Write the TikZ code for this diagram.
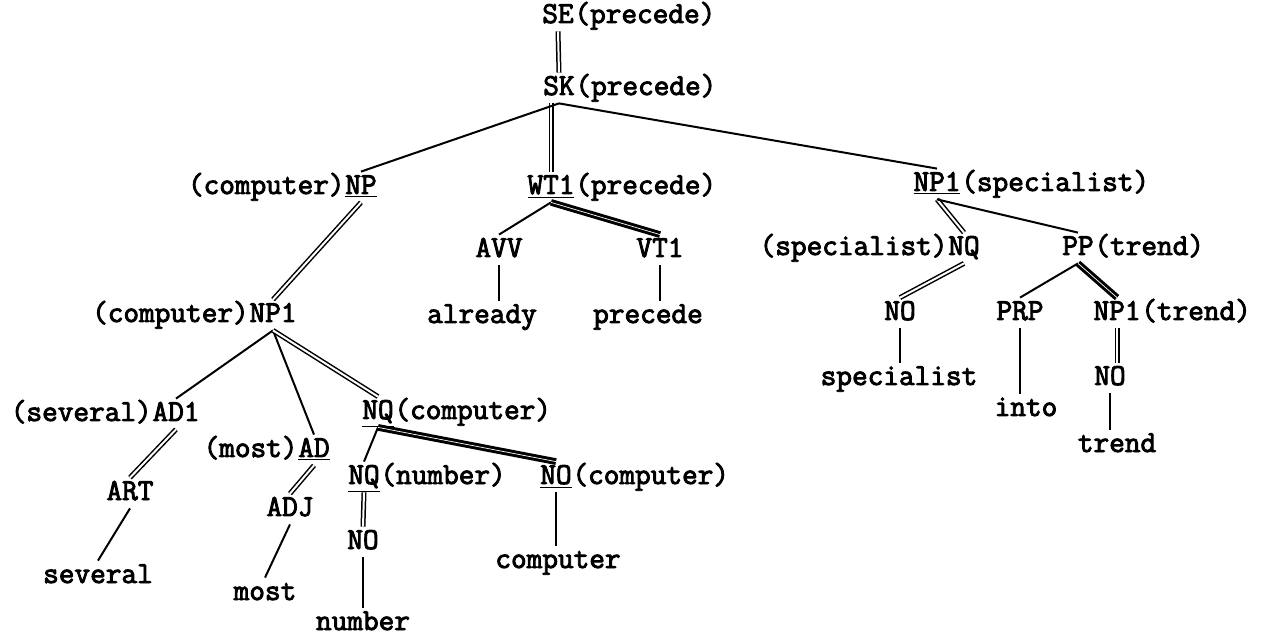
\documentclass[tikz,border=0pt]{standalone}
\usepackage{fontspec}
\usetikzlibrary{positioning}
\newfontfamily\typew{Latin Modern Mono}[FakeBold=3]

\begin{document}
\begin{tikzpicture}[x=0.5pt, y=-0.5pt,
		every node/.style={font=\fontsize{15.2}{18}\selectfont\typew, inner xsep=0pt, inner ysep=3.5pt, text height=7.5pt, text depth=0.5pt},
		br/.style={line width=1pt},
		dbl/.style={double, line width=0.75pt, double distance=1pt},
		hvy/.style={double, line width=1.5pt, double distance=0.35pt}]
			\useasboundingbox (0,0) rectangle (1262,640);

			% top
			\node (se) at (558,16) {SE};
			\node[right=0pt of se] (sew) {(precede)};
			\node (sk) at (559,88) {SK};
			\node[right=0pt of sk] (skw) {(precede)};

			\node (np) at (361,187) {\underline{NP}};
			\node[left=0pt of np] (npw) {(computer)};
			\node (wt) at (551,187) {\underline{WT1}};
			\node[right=0pt of wt] (wtw) {(precede)};
			\node (npa) at (937,184) {\underline{NP1}};
			\node[right=0pt of npa] (npaw) {(specialist)};

			% middle branch
			\node (avv) at (499,250) {AVV};
			\node (vt) at (660,250) {VT1};
			\node (alr) at (482,316) {already};
			\node (prc) at (648,316) {precede};

			% left branch
			\node (npc) at (273,315) {NP1};
			\node[left=0pt of npc] (npcw) {(computer)};
			\node (ad1) at (176,414) {AD1};
			\node[left=0pt of ad1] (ad1w) {(several)};
			\node (ad) at (314,450) {\underline{AD}};
			\node[left=0pt of ad] (adw) {(most)};
			\node (nqc) at (378,412) {\underline{NQ}};
			\node[right=0pt of nqc] (nqcw) {(computer)};
			\node (art) at (130,493) {ART};
			\node (adj) at (290,509) {ADJ};
			\node (nqn) at (364,477) {\underline{NQ}};
			\node[right=0pt of nqn] (nqnw) {(number)};
			\node (noc) at (556,477) {\underline{NO}};
			\node[right=0pt of noc] (nocw) {(computer)};
			\node (non) at (363,542) {NO};
			\node (sev) at (98,576) {several};
			\node (most) at (265,593) {most};
			\node (num) at (363,623) {number};
			\node (cmp) at (558,561) {computer};

			% right branch
			\node (nqs) at (964,248) {NQ};
			\node[left=0pt of nqs] (nqsw) {(specialist)};
			\node (pp) at (1078,248) {PP};
			\node[right=0pt of pp] (ppw) {(trend)};
			\node (nos) at (900,313) {NO};
			\node (prp) at (1020,313) {PRP};
			\node (npt) at (1117,313) {NP1};
			\node[right=0pt of npt] (nptw) {(trend)};
			\node (spc) at (899,378) {specialist};
			\node (not) at (1110,378) {NO};
			\node (into) at (1026,409) {into};
			\node (trd) at (1117,445) {trend};

			% branches
			\draw[dbl] (se.south) -- (sk.north);
			\draw[dbl] (wt.north |- sk.south) -- (wt.north);
			\draw[br] (sk.south) -- (np.north);
			\draw[br] (sk.south) -- (npa.north);

			\draw[br] (wt.south) -- (avv.north);
			\draw[hvy] (wt.south) -- (vt.north);
			\draw[br] (avv.south) -- (avv.south |- alr.north);
			\draw[br] (vt.south) -- (vt.south |- prc.north);

			\draw[dbl] (np.south) -- (npc.north);
			\draw[br] (npc.south) -- (ad1.north);
			\draw[br] (npc.south) -- (ad.north);
			\draw[dbl] (npc.south) -- (nqc.north);
			\draw[dbl] (ad1.south) -- (art.north);
			\draw[dbl] (ad.south) -- (adj.north);
			\draw[br] (art.south) -- (sev.north);
			\draw[br] (adj.south) -- (most.north);
			\draw[br] (nqc.south) -- (nqn.north);
			\draw[hvy] (nqc.south) -- (noc.north);
			\draw[dbl] (nqn.south) -- (non.north);
			\draw[br] (non.south) -- (num.north);
			\draw[br] (noc.south) -- (noc.south |- cmp.north);

			\draw[dbl] (npa.south) -- (nqs.north);
			\draw[br] (npa.south) -- (pp.north);
			\draw[dbl] (nqs.south) -- (nos.north);
			\draw[br] (nos.south) -- (nos.south |- spc.north);
			\draw[br] (pp.south) -- (prp.north);
			\draw[hvy] (pp.south) -- (npt.north);
			\draw[br] (prp.south) -- (prp.south |- into.north);
			\draw[dbl] (npt.south) -- (npt.south |- not.north);
			\draw[br] (not.south) -- (not.south |- trd.north);
		\end{tikzpicture}
\end{document}
